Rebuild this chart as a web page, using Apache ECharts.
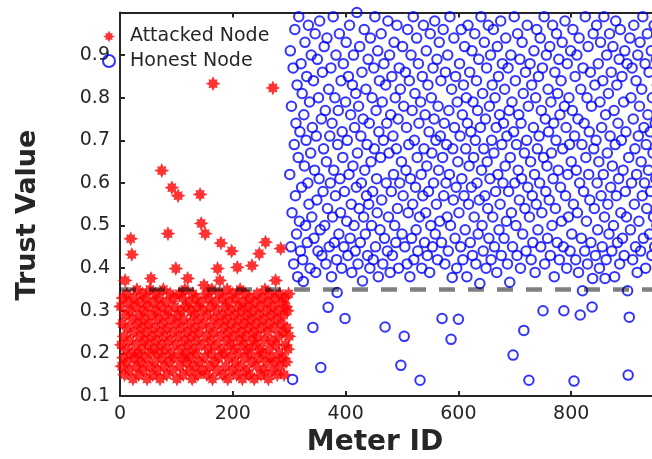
<!DOCTYPE html>
<html>
<head>
<meta charset="utf-8">
<script src="https://cdn.jsdelivr.net/npm/echarts@6/dist/echarts.min.js"></script>
<style>
  html, body { margin: 0; padding: 0; background: #fff; }
  #chart { width: 652px; height: 459px; }
</style>
</head>
<body>
<div id="chart"></div>
<script>
// Trust value of each smart meter; meter IDs run 1..300 (attacked) then 301..1000 (honest)
const attackedTrust = [
  0.31,0.22,0.17,0.27,0.33,0.19,0.24,0.15,0.371,0.29,0.21,0.34,0.18,0.26,0.32,0.16,0.23,0.3,0.469,0.2,
  0.432,0.28,0.14,0.25,0.33,0.19,0.31,0.22,0.17,0.35,0.27,0.2,0.15,0.29,0.24,0.32,0.18,0.26,0.21,0.34,
  0.16,0.3,0.23,0.28,0.19,0.33,0.25,0.14,0.31,0.22,0.27,0.17,0.35,0.2,0.376,0.24,0.29,0.15,0.32,0.21,
  0.26,0.18,0.34,0.23,0.3,0.16,0.28,0.2,0.33,0.25,0.14,0.31,0.22,0.629,0.19,0.27,0.35,0.17,0.24,0.29,
  0.21,0.32,0.15,0.26,0.481,0.3,0.18,0.23,0.34,0.2,0.28,0.589,0.16,0.25,0.33,0.19,0.31,0.22,0.399,0.27,
  0.14,0.29,0.57,0.24,0.34,0.17,0.21,0.3,0.26,0.19,0.33,0.15,0.28,0.23,0.35,0.2,0.31,0.18,0.25,0.376,
  0.22,0.32,0.16,0.27,0.19,0.3,0.24,0.14,0.34,0.21,0.29,0.17,0.26,0.33,0.2,0.23,0.31,0.15,0.28,0.25,
  0.18,0.573,0.32,0.505,0.22,0.16,0.3,0.27,0.36,0.19,0.481,0.34,0.24,0.15,0.29,0.21,0.33,0.26,0.17,0.31,
  0.23,0.2,0.35,0.14,0.833,0.28,0.25,0.18,0.32,0.22,0.3,0.16,0.399,0.27,0.19,0.34,0.371,0.24,0.459,0.21,
  0.29,0.15,0.33,0.26,0.2,0.31,0.17,0.28,0.23,0.35,0.14,0.25,0.32,0.19,0.3,0.22,0.27,0.44,0.16,0.34,
  0.24,0.21,0.29,0.18,0.33,0.26,0.15,0.402,0.31,0.2,0.28,0.23,0.35,0.17,0.25,0.3,0.14,0.32,0.22,0.27,
  0.19,0.34,0.24,0.16,0.29,0.21,0.31,0.26,0.15,0.33,0.2,0.28,0.18,0.406,0.23,0.3,0.25,0.14,0.32,0.22,
  0.27,0.17,0.34,0.24,0.19,0.29,0.434,0.21,0.31,0.15,0.26,0.33,0.2,0.28,0.16,0.23,0.35,0.461,0.18,0.3,
  0.25,0.32,0.14,0.27,0.21,0.34,0.19,0.29,0.23,0.16,0.823,0.31,0.26,0.18,0.33,0.371,0.22,0.28,0.15,0.3,
  0.24,0.2,0.34,0.17,0.446,0.27,0.32,0.19,0.25,0.29,0.15,0.33,0.22,0.31,0.18,0.26,0.3,0.21,0.34,0.24
];

const honestTrust = [
  0.62,0.91,0.45,0.78,0.53,0.139,0.87,0.41,0.69,0.96,0.57,0.74,0.48,0.83,0.38,0.66,0.99,0.51,0.72,0.44,
  0.88,0.59,0.81,0.42,0.369,0.76,0.64,0.93,0.5,0.7,0.85,0.46,0.6,0.97,0.55,0.79,0.4,0.67,0.9,0.52,
  0.73,0.261,0.84,0.47,0.63,0.95,0.39,0.71,0.56,0.89,0.44,0.8,0.61,0.98,0.49,0.167,0.75,0.43,0.86,0.58,
  0.68,0.92,0.5,0.77,0.41,0.65,0.94,0.54,0.308,0.82,0.45,0.71,0.6,0.87,0.38,0.74,0.52,0.99,0.63,0.46,
  0.8,0.57,0.9,0.42,0.343,0.69,0.77,0.48,0.95,0.61,0.53,0.84,0.4,0.72,0.66,0.88,0.45,0.58,0.282,0.79,
  0.93,0.51,0.7,0.43,0.85,0.62,0.97,0.47,0.76,0.55,0.39,0.83,0.64,0.9,0.5,0.73,0.44,0.81,0.59,1.0,
  0.67,0.41,0.78,0.54,0.92,0.46,0.71,0.6,0.86,0.37,0.75,0.52,0.96,0.63,0.48,0.82,0.57,0.69,0.43,0.89,
  0.55,0.74,0.4,0.94,0.65,0.5,0.8,0.58,0.42,0.87,0.68,0.99,0.45,0.77,0.61,0.53,0.91,0.38,0.72,0.84,
  0.49,0.66,0.95,0.56,0.79,0.41,0.7,0.88,0.47,0.262,0.83,0.6,0.74,0.44,0.98,0.52,0.67,0.9,0.39,0.76,
  0.58,0.85,0.43,0.71,0.62,0.93,0.5,0.8,0.46,0.68,0.97,0.54,0.75,0.4,0.87,0.6,0.82,0.172,0.65,0.48,
  0.92,0.57,0.78,0.24,0.45,0.86,0.63,0.73,0.41,0.96,0.53,0.69,0.84,0.38,0.61,0.9,0.47,0.77,0.55,0.99,
  0.42,0.7,0.81,0.59,0.49,0.94,0.66,0.44,0.88,0.74,0.52,0.137,0.79,0.62,0.4,0.85,0.57,0.97,0.68,0.46,
  0.76,0.53,0.91,0.64,0.43,0.83,0.58,0.72,0.39,0.95,0.5,0.8,0.67,0.45,0.87,0.6,0.75,0.98,0.48,0.7,
  0.55,0.89,0.42,0.78,0.63,0.93,0.51,0.71,0.84,0.46,0.282,0.66,0.96,0.57,0.74,0.41,0.86,0.6,0.69,0.52,
  0.9,0.44,0.77,0.62,0.99,0.5,0.233,0.82,0.378,0.68,0.56,0.94,0.73,0.47,0.85,0.59,0.4,0.79,0.65,0.28,
  0.53,0.88,0.71,0.45,0.96,0.61,0.76,0.42,0.83,0.57,0.92,0.49,0.68,0.8,0.38,0.74,0.97,0.55,0.64,0.86,
  0.46,0.72,0.59,0.91,0.43,0.79,0.66,0.52,0.95,0.7,0.41,0.84,0.6,0.77,0.48,0.89,0.56,0.364,0.73,0.99,
  0.63,0.5,0.81,0.44,0.68,0.93,0.57,0.75,0.4,0.87,0.65,0.54,0.97,0.47,0.78,0.61,0.9,0.42,0.7,0.83,
  0.52,0.96,0.67,0.45,0.8,0.58,0.73,0.39,0.92,0.62,0.85,0.49,0.76,0.55,0.98,0.43,0.69,0.88,0.6,0.74,
  0.47,0.82,0.64,0.94,0.51,0.71,0.41,0.87,0.58,0.77,0.367,0.66,0.9,0.53,0.79,0.45,0.196,0.72,0.99,0.6,
  0.84,0.5,0.69,0.43,0.95,0.63,0.76,0.56,0.89,0.4,0.74,0.61,0.93,0.48,0.81,0.254,0.67,0.54,0.86,0.44,
  0.7,0.97,0.59,0.78,0.137,0.52,0.88,0.65,0.42,0.83,0.57,0.46,0.73,0.91,0.62,0.39,0.8,0.55,0.96,0.68,
  0.49,0.85,0.71,0.6,0.94,0.45,0.77,0.53,0.87,0.3,0.66,0.99,0.41,0.75,0.58,0.9,0.64,0.47,0.82,0.72,
  0.56,0.92,0.43,0.79,0.67,0.5,0.97,0.61,0.74,0.38,0.86,0.54,0.7,0.95,0.46,0.81,0.63,0.89,0.42,0.76,
  0.59,0.84,0.51,0.93,0.68,0.45,0.3,0.78,0.98,0.57,0.73,0.4,0.88,0.62,0.52,0.8,0.69,0.44,0.91,0.65,
  0.48,0.77,0.96,0.55,0.135,0.71,0.85,0.42,0.63,0.9,0.53,0.75,0.39,0.94,0.6,0.29,0.82,0.47,0.69,0.347,
  0.87,0.58,0.74,0.44,0.99,0.66,0.51,0.8,0.41,0.92,0.62,0.72,0.56,0.86,0.46,0.78,0.309,0.376,0.95,0.68,
  0.54,0.83,0.43,0.7,0.97,0.6,0.49,0.88,0.65,0.4,0.79,0.93,0.57,0.73,0.45,0.84,0.62,0.99,0.52,0.376,
  0.76,0.42,0.9,0.67,0.55,0.81,0.48,0.95,0.71,0.59,0.86,0.44,0.64,0.92,0.5,0.77,0.38,0.69,0.98,0.57,
  0.83,0.46,0.74,0.61,0.89,0.41,0.96,0.53,0.7,0.85,0.47,0.63,0.79,0.43,0.91,0.58,0.72,0.52,0.88,0.347,
  0.149,0.66,0.285,0.94,0.49,0.8,0.6,0.87,0.42,0.75,0.97,0.55,0.68,0.45,0.84,0.62,0.39,0.9,0.71,0.51,
  0.78,0.93,0.44,0.65,0.82,0.57,0.99,0.47,0.73,0.6,0.88,0.4,0.69,0.54,0.95,0.76,0.63,0.86,0.48,0.72,
  0.58,0.91,0.43,0.8,0.67,0.52,0.97,0.45,0.74,0.61,0.89,0.5,0.83,0.41,0.7,0.96,0.56,0.78,0.64,0.92,
  0.46,0.75,0.59,0.87,0.42,0.68,0.94,0.53,0.81,0.38,0.72,0.99,0.6,0.48,0.85,0.65,0.44,0.9,0.57,0.77,
  0.51,0.93,0.62,0.4,0.84,0.7,0.47,0.96,0.55,0.79,0.66,0.43,0.88,0.6,0.73,0.98,0.49,0.82,0.58,0.69
];

const seriesNames = ['Attacked Node', 'Honest Node'];
const trustThreshold = 0.35;
const firstHonestId = 301;
const xTicks = { min: 0, max: 1000, step: 200 };
const yTicks = { min: 0.1, max: 1.0, step: 0.1 };

const attackedPoints = attackedTrust.map((v, i) => [i + 1, v]);
const honestPoints = honestTrust.map((v, i) => [firstHonestId + i, v]);

// chunky asterisk marker: long straight arms, shorter diagonals
const starPath = 'path://M10 0 L12.2 4.9 L16 4 L15.1 7.8 L20 10 L15.1 12.2 L16 16 L12.2 15.1 L10 20 L7.8 15.1 L4 16 L4.9 12.2 L0 10 L4.9 7.8 L4 4 L7.8 4.9 Z';

const FONT = 'DejaVu Sans';
const INK = '#262626';

const chart = echarts.init(document.getElementById('chart'), null, { renderer: 'canvas' });

const axisLine = { show: true, onZero: false, lineStyle: { color: INK, width: 2 } };
const axisTickIn = { show: true, inside: true, length: 5, lineStyle: { color: INK, width: 2 } };

chart.setOption({
  animation: false,
  backgroundColor: '#ffffff',
  grid: { left: 120, top: 12.5, width: 564, bottom: 63, containLabel: false, outerBoundsMode: 'none' },
  legend: {
    data: seriesNames,
    orient: 'vertical',
    left: 102,
    top: 26,
    padding: 0,
    itemWidth: 12,
    itemHeight: 12,
    itemGap: 3.5,
    textStyle: { fontFamily: FONT, fontSize: 19, color: INK, lineHeight: 21, padding: [0, 0, 0, 10] }
  },
  xAxis: [
    {
      type: 'value', position: 'bottom',
      min: xTicks.min, max: xTicks.max, interval: xTicks.step,
      axisLine, axisTick: axisTickIn, splitLine: { show: false },
      axisLabel: { margin: 9, fontFamily: FONT, fontSize: 19, color: INK, showMaxLabel: false, formatter: v => String(v) }
    },
    {
      type: 'value', position: 'top',
      min: xTicks.min, max: xTicks.max, interval: xTicks.step,
      axisLine, axisTick: axisTickIn, splitLine: { show: false },
      axisLabel: { show: false }
    }
  ],
  yAxis: {
    type: 'value',
    min: yTicks.min, max: yTicks.max, interval: yTicks.step,
    axisLine, axisTick: axisTickIn, splitLine: { show: false },
    axisLabel: {
      margin: 10, fontFamily: FONT, fontSize: 19, color: INK,
      showMaxLabel: false,
      formatter: v => v.toFixed(1)
    }
  },
  graphic: [
    {
      type: 'text', x: 375, y: 443,
      style: { text: 'Meter ID', fontFamily: FONT, fontSize: 28, fontWeight: 'bold', fill: INK, textAlign: 'center', textVerticalAlign: 'middle' }
    },
    {
      type: 'text', x: 28, y: 215, rotation: Math.PI / 2,
      style: { text: 'Trust Value', fontFamily: FONT, fontSize: 27, fontWeight: 'bold', fill: INK, textAlign: 'center', textVerticalAlign: 'middle' }
    }
  ],
  series: [
    {
      name: seriesNames[1],
      type: 'scatter',
      clip: false,
      symbol: 'circle',
      symbolSize: 9.5,
      itemStyle: { color: 'rgba(0,0,0,0)', borderColor: '#0000ff', borderWidth: 2 },
      data: honestPoints,
      z: 2
    },
    {
      name: seriesNames[0],
      type: 'scatter',
      clip: false,
      symbol: starPath,
      symbolSize: 15,
      itemStyle: { color: '#ff0000' },
      data: attackedPoints,
      z: 3
    },
    {
      name: 'threshold',
      type: 'line',
      silent: true,
      symbol: 'none',
      data: [[xTicks.min, trustThreshold], [xTicks.max, trustThreshold]],
      lineStyle: { color: 'rgba(0,0,0,0.5)', width: 4.5, type: [16, 13] },
      z: 4
    }
  ]
});
</script>
</body>
</html>
